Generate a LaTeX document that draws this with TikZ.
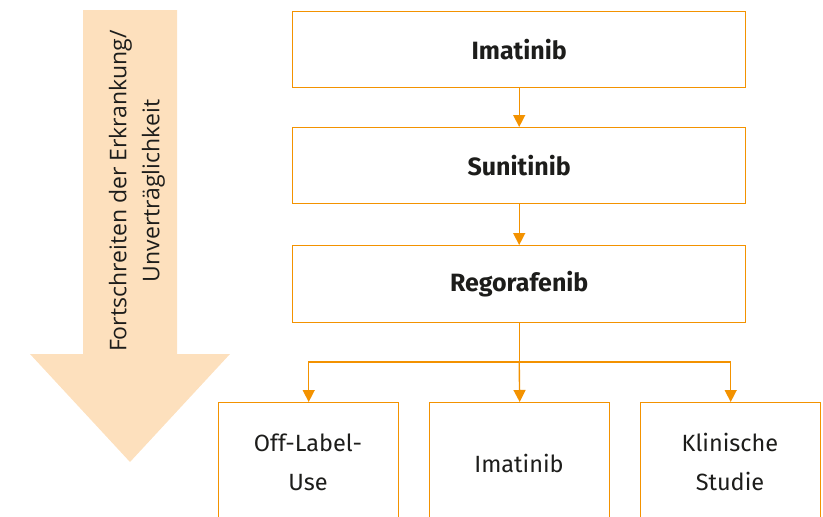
\documentclass[tikz,border=0pt]{standalone}
\usepackage{fontspec}
\setmainfont{Fira Sans}
\newfontfamily\arrowfont{Open Sans}
\usetikzlibrary{arrows.meta}
\definecolor{boxorange}{HTML}{F39200}
\definecolor{peach}{HTML}{FDE0BD}
\definecolor{txt}{HTML}{1D1D1B}
\tikzset{
  box/.style={draw=boxorange, line width=1.4pt, fill=white, text=txt, anchor=north west, inner sep=0pt, align=center},
  conn/.style={draw=boxorange, line width=1.4pt, -{Triangle[length=12pt,width=12pt]}},
  line/.style={draw=boxorange, line width=1.4pt},
  toptext/.style={font=\bfseries\fontsize{25}{30}\selectfont},
  lowtext/.style={text=txt, align=center, font=\fontsize{23.5}{39}\selectfont}
}
\begin{document}
\begin{tikzpicture}[x=1pt,y=-1pt]
\useasboundingbox (0,0) rectangle (823,517);
% big arrow
\fill[peach] (83,10) -- (177,10) -- (177,354) -- (230,354) -- (130,462) -- (30,354) -- (83,354) -- cycle;
\node[rotate=90, text=txt, align=center, font=\arrowfont\fontsize{23}{33}\selectfont] (prog) at (137,191) {Fortschreiten der Erkrankung/\\Unverträglichkeit};
% main boxes
\node[box, toptext, minimum width=453pt, minimum height=76pt] (b1) at (292,11) {Imatinib};
\node[box, toptext, minimum width=453pt, minimum height=76pt] (b2) at (292,127) {Sunitinib};
\node[box, toptext, minimum width=453pt, minimum height=77pt] (b3) at (292,245) {Regorafenib};
% bottom boxes
\node[box, minimum width=180pt, minimum height=130pt] (c1) at (218,402) {};
\node[box, minimum width=180pt, minimum height=130pt] (c2) at (429,402) {};
\node[box, minimum width=180pt, minimum height=130pt] (c3) at (640,402) {};
\node[lowtext] (t1) at (308,462) {Off-Label-\\Use};
\node[lowtext] (t2) at (519,463) {Imatinib};
\node[lowtext] (t3) at (730,462) {Klinische\\Studie};
% connectors
\draw[conn] (b1.south) -- (b2.north);
\draw[conn] (b2.south) -- (b3.north);
\coordinate (split) at (b3.south |- 0,362);
\draw[line] (b3.south) -- (split);
\draw[conn] (split) -- (c2.north);
\draw[conn] (split) -| (c1.north);
\draw[conn] (split) -| (c3.north);
\end{tikzpicture}
\end{document}
